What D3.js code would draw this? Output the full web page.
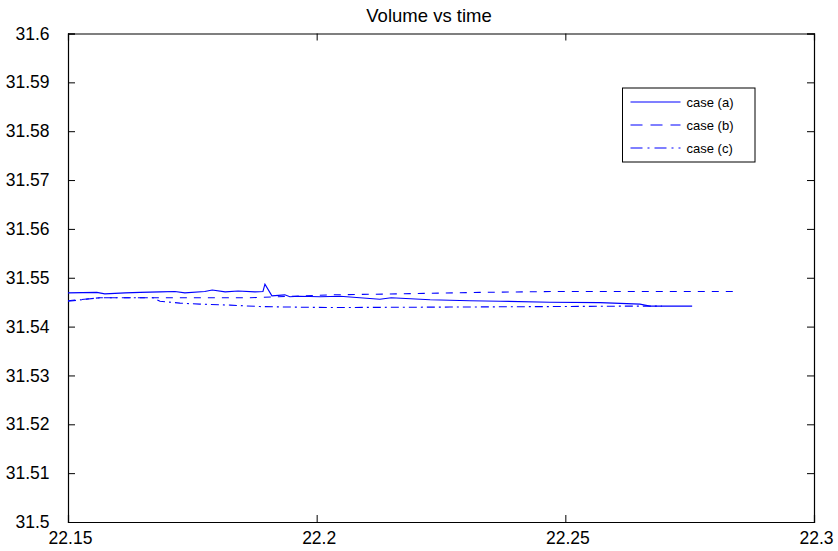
<html lang="en">
<head>
<meta charset="UTF-8">
<script src="https://d3js.org/d3.v7.min.js"></script>
<style>
  body { margin: 0; background: #fff; }
  text { font-family: "Liberation Sans", Arial, sans-serif; fill: #000; }
</style>
</head>
<body>
<div id="here"></div>
<script>
    // time values and volume values
    const timeA = [22.1500, 22.1558, 22.1574, 22.1615, 22.1645, 22.1685, 22.1715, 22.1735, 22.1775, 22.1790,
                   22.1816, 22.1842, 22.1876, 22.1892, 22.1896, 22.1910, 22.1936, 22.1946, 22.1966, 22.2007,
                   22.2047, 22.2127, 22.2150, 22.2228, 22.2308, 22.2369, 22.2469, 22.2570, 22.2650, 22.2670, 22.2755];
    const volA  = [31.5469, 31.5470, 31.5467, 31.5469, 31.5470, 31.5471, 31.5472, 31.5469, 31.5472, 31.5475,
                   31.5471, 31.5473, 31.5471, 31.5472, 31.5487, 31.5463, 31.5465, 31.5461, 31.5462, 31.5461,
                   31.5462, 31.5456, 31.5459, 31.5455, 31.5453, 31.5452, 31.5450, 31.5449, 31.5446, 31.5442, 31.5442];

    const timeB = [22.1500, 22.1564, 22.1866, 22.2027, 22.2167, 22.2328, 22.2489, 22.2610, 22.2837];
    const volB  = [31.5453, 31.5459, 31.5459, 31.5465, 31.5467, 31.5470, 31.5472, 31.5472, 31.5472];

    const timeC = [22.1500, 22.1564, 22.1671, 22.1685, 22.1725, 22.1765, 22.1826, 22.1886, 22.1946, 22.2027,
                   22.2268, 22.2469, 22.2630, 22.2694];
    const volC  = [31.5452, 31.5459, 31.5459, 31.5452, 31.5448, 31.5446, 31.5444, 31.5441, 31.5440, 31.5439,
                   31.5440, 31.5441, 31.5442, 31.5442];

    const xTicks = [22.15, 22.2, 22.25, 22.3];
    const yTicks = [31.5, 31.51, 31.52, 31.53, 31.54, 31.55, 31.56, 31.57, 31.58, 31.59, 31.6];
    const caseNames = ["case (a)", "case (b)", "case (c)"];

    const w = 838, h = 551;
    const mLeft = 68, mRight = 814, mTop = 33.5, mBottom = 522;

    const xSc = d3.scaleLinear().domain([22.15, 22.3]).range([mLeft, mRight]);
    const ySc = d3.scaleLinear().domain([31.5, 31.6]).range([mBottom, mTop]);

    const svg = d3.select("#here").append("svg")
        .attr("width", w)
        .attr("height", h);

    // title
    svg.append("text")
        .attr("x", 429).attr("y", 22)
        .attr("text-anchor", "middle")
        .style("font-size", "18.5px")
        .text("Volume vs time");

    // axes with inward ticks on all four sides
    const tk = 7;
    svg.append("g").attr("transform", `translate(0,${mBottom})`)
        .call(d3.axisBottom(xSc).tickValues(xTicks).tickSize(-tk).tickPadding(10).tickFormat(d3.format("")))
        .call(g => g.selectAll("text").style("font-size", "17.5px").attr("dx", 2));
    svg.append("g").attr("transform", `translate(0,${mTop})`)
        .call(d3.axisTop(xSc).tickValues(xTicks).tickSize(-tk).tickFormat(""));
    svg.append("g").attr("transform", `translate(${mLeft},0)`)
        .call(d3.axisLeft(ySc).tickValues(yTicks).tickSize(-tk).tickPadding(18.5).tickFormat(d3.format("")))
        .call(g => g.selectAll("text").style("font-size", "17.5px"));
    svg.append("g").attr("transform", `translate(${mRight},0)`)
        .call(d3.axisRight(ySc).tickValues(yTicks).tickSize(-tk).tickFormat(""));
    svg.selectAll(".domain").attr("stroke", "#000").attr("stroke-width", 1.2);
    svg.selectAll(".tick line").attr("stroke", "#000");

    // series
    const series = [
        { name: caseNames[0], t: timeA, v: volA, dash: null, legDash: null },
        { name: caseNames[1], t: timeB, v: volB, dash: "7,7", legDash: "12,8" },
        { name: caseNames[2], t: timeC, v: volC, dash: "8,4,2,4", legDash: "12,5,2,5" }
    ];

    const lnMkr = d3.line().x(d => xSc(d[0])).y(d => ySc(d[1]));
    series.forEach(s => {
        svg.append("path")
            .attr("d", lnMkr(s.t.map((t, i) => [t, s.v[i]])))
            .attr("fill", "none")
            .attr("stroke", "#0000ff")
            .attr("stroke-width", 1.1)
            .attr("stroke-dasharray", s.dash);
    });

    // legend
    const leg = svg.append("g").attr("transform", "translate(622.5,88)");
    leg.append("rect")
        .attr("width", 132.5).attr("height", 74)
        .attr("fill", "#fff").attr("stroke", "#000").attr("stroke-width", 1);
    series.forEach((s, i) => {
        const yy = 14 + i * 23;
        leg.append("line")
            .attr("x1", 8).attr("x2", 58).attr("y1", yy).attr("y2", yy)
            .attr("stroke", "#0000ff").attr("stroke-width", 1.1)
            .attr("stroke-dasharray", s.legDash);
        leg.append("text")
            .attr("x", 64).attr("y", yy + 4.5)
            .style("font-size", "13px")
            .text(s.name);
    });
</script>
</body>
</html>
